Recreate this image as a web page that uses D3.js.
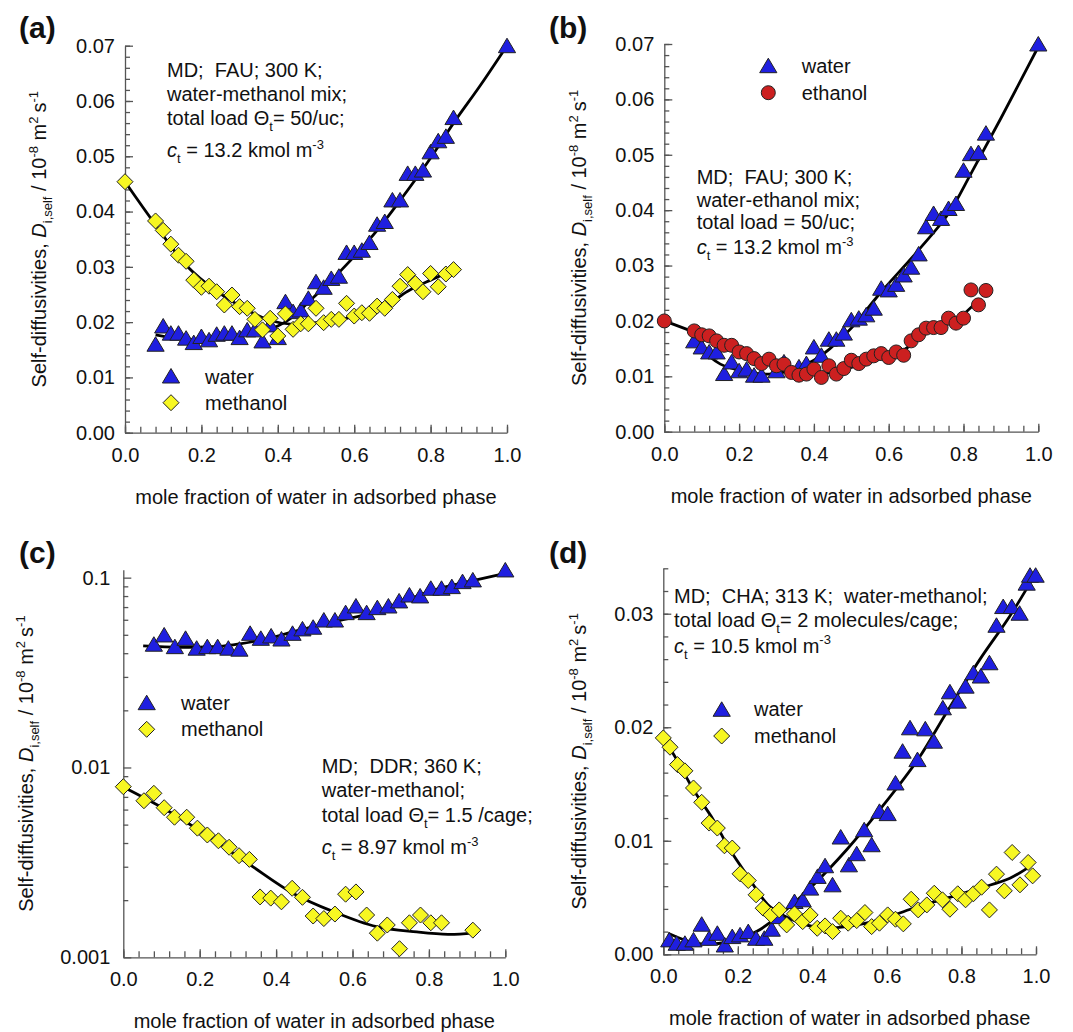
<!DOCTYPE html>
<html>
<head>
<meta charset="utf-8">
<script src="https://cdn.jsdelivr.net/npm/d3@7"></script>
<style>
  body { margin: 0; background: #fff; }
  svg text { font-family: "Liberation Sans", Arial, sans-serif; fill: #111; }
</style>
</head>
<body>
<svg id="fig" width="1073" height="1032"></svg>
<script>
// ---- values: [x, D] ----
// (a) FAU, water-methanol
var aWater = [[0.08,0.0160],[0.10,0.0193],[0.12,0.0180],[0.14,0.0180],[0.16,0.0171],[0.18,0.0163],[0.20,0.0174],[0.22,0.0168],[0.24,0.0178],[0.26,0.0180],[0.28,0.0180],[0.30,0.0172],[0.32,0.0186],[0.34,0.0186],[0.36,0.0166],[0.38,0.0195],[0.40,0.0172],[0.42,0.0237],[0.44,0.0219],[0.46,0.0222],[0.48,0.0243],[0.50,0.0273],[0.52,0.0263],[0.54,0.0279],[0.56,0.0283],[0.58,0.0326],[0.60,0.0326],[0.62,0.0330],[0.64,0.0344],[0.66,0.0377],[0.68,0.0382],[0.70,0.0421],[0.72,0.0421],[0.74,0.0469],[0.76,0.0469],[0.78,0.0475],[0.80,0.0508],[0.82,0.0528],[0.84,0.0536],[0.86,0.0570],[1.00,0.0700]];
var aMethanol = [[0,0.0454],[0.08,0.0383],[0.10,0.0366],[0.12,0.0341],[0.14,0.0321],[0.16,0.0310],[0.18,0.0276],[0.20,0.0263],[0.22,0.0265],[0.24,0.0255],[0.26,0.0231],[0.28,0.0249],[0.30,0.0228],[0.32,0.0225],[0.34,0.0205],[0.36,0.0186],[0.38,0.0207],[0.40,0.0175],[0.42,0.0215],[0.44,0.0187],[0.46,0.0197],[0.48,0.0197],[0.50,0.0225],[0.52,0.0199],[0.54,0.0205],[0.56,0.0205],[0.58,0.0234],[0.60,0.0211],[0.62,0.0217],[0.64,0.0216],[0.66,0.0229],[0.68,0.0225],[0.70,0.0241],[0.72,0.0265],[0.74,0.0286],[0.76,0.0270],[0.78,0.0255],[0.80,0.0288],[0.82,0.0264],[0.84,0.0287],[0.86,0.0295]];
var aWaterFit = [[0.08,0.0177],[0.16,0.0169],[0.24,0.0170],[0.30,0.0176],[0.36,0.0185],[0.40,0.0193],[0.44,0.0210],[0.48,0.0236],[0.52,0.0262],[0.58,0.0304],[0.66,0.0366],[0.72,0.0420],[0.80,0.0497],[0.86,0.0560],[0.93,0.0628],[1.0,0.0700]];
var aMethanolFit = [[0,0.0454],[0.08,0.0376],[0.16,0.0303],[0.24,0.0256],[0.32,0.0222],[0.38,0.0203],[0.44,0.0196],[0.50,0.0199],[0.60,0.0210],[0.68,0.0229],[0.74,0.0256],[0.80,0.0276],[0.86,0.0294]];

// (b) FAU, water-ethanol
var bWater = [[0.08,0.0164],[0.10,0.0153],[0.12,0.0144],[0.14,0.0144],[0.16,0.0105],[0.18,0.0126],[0.20,0.0110],[0.22,0.0113],[0.24,0.0102],[0.26,0.0102],[0.30,0.0110],[0.32,0.0126],[0.36,0.0117],[0.38,0.0123],[0.40,0.0153],[0.42,0.0138],[0.44,0.0167],[0.46,0.0167],[0.48,0.0178],[0.50,0.0202],[0.52,0.0205],[0.54,0.0211],[0.56,0.0223],[0.58,0.0259],[0.60,0.0256],[0.62,0.0266],[0.64,0.0283],[0.66,0.0297],[0.68,0.0321],[0.70,0.0370],[0.72,0.0394],[0.74,0.0385],[0.76,0.0403],[0.78,0.0412],[0.80,0.0472],[0.82,0.0502],[0.84,0.0504],[0.86,0.0539],[1.00,0.0700]];
var bEthanol = [[0,0.0200],[0.08,0.0182],[0.10,0.0175],[0.12,0.0173],[0.14,0.0164],[0.16,0.0156],[0.18,0.0156],[0.20,0.0144],[0.22,0.0141],[0.24,0.0132],[0.26,0.0123],[0.28,0.0131],[0.30,0.0119],[0.32,0.0122],[0.34,0.0107],[0.36,0.0102],[0.38,0.0104],[0.40,0.0113],[0.42,0.0098],[0.44,0.0119],[0.46,0.0104],[0.48,0.0114],[0.50,0.0129],[0.52,0.0123],[0.54,0.0131],[0.56,0.0137],[0.58,0.0141],[0.60,0.0134],[0.62,0.0144],[0.64,0.0138],[0.66,0.0164],[0.68,0.0175],[0.70,0.0187],[0.72,0.0188],[0.74,0.0188],[0.76,0.0205],[0.78,0.0196],[0.80,0.0205],[0.82,0.0256],[0.84,0.0229],[0.86,0.0255]];
var bWaterFit = [[0.08,0.0160],[0.15,0.0122],[0.22,0.0108],[0.28,0.0104],[0.345,0.0112],[0.40,0.0129],[0.443,0.0150],[0.50,0.0187],[0.577,0.0250],[0.68,0.0328],[0.76,0.0394],[0.82,0.0466],[0.90,0.0566],[1.0,0.0695]];
var bEthanolFit = [[0,0.0200],[0.086,0.0178],[0.176,0.0153],[0.265,0.0126],[0.354,0.0108],[0.416,0.0104],[0.488,0.0114],[0.577,0.0132],[0.639,0.0147],[0.71,0.0184],[0.78,0.0202],[0.84,0.0238]];

// (c) DDR, water-methanol (log scale)
var cWater = [[0.080,0.0446],[0.107,0.0499],[0.135,0.0433],[0.163,0.0479],[0.192,0.0425],[0.220,0.0433],[0.247,0.0433],[0.275,0.0425],[0.304,0.0420],[0.332,0.0509],[0.360,0.0479],[0.387,0.0493],[0.414,0.0475],[0.443,0.0509],[0.469,0.0537],[0.497,0.0548],[0.525,0.0598],[0.554,0.0598],[0.582,0.0654],[0.609,0.0709],[0.637,0.0654],[0.665,0.0695],[0.694,0.0709],[0.722,0.0754],[0.749,0.0810],[0.777,0.0801],[0.805,0.0879],[0.833,0.0879],[0.860,0.0897],[0.888,0.0953],[0.915,0.0973],[1.000,0.1098]];
var cMethanol = [[0.000,0.00792],[0.054,0.00668],[0.080,0.00731],[0.107,0.00614],[0.134,0.00547],[0.166,0.00547],[0.194,0.00479],[0.220,0.00441],[0.249,0.00411],[0.277,0.00380],[0.303,0.00343],[0.330,0.00328],[0.358,0.00208],[0.386,0.00205],[0.414,0.00196],[0.442,0.00231],[0.469,0.00207],[0.497,0.00165],[0.525,0.00160],[0.554,0.00169],[0.582,0.00215],[0.609,0.00221],[0.637,0.00167],[0.665,0.00134],[0.691,0.00148],[0.723,0.00111],[0.749,0.00152],[0.778,0.00167],[0.805,0.00152],[0.833,0.00152],[0.915,0.00139]];
var cWaterFit = [[0.052,0.0437],[0.15,0.0430],[0.25,0.0434],[0.305,0.0448],[0.38,0.0478],[0.445,0.0519],[0.54,0.0580],[0.637,0.0640],[0.73,0.0745],[0.812,0.0861],[0.90,0.0950],[1.0,0.1054]];
var cMethanolFit = [[0,0.0079],[0.113,0.00597],[0.218,0.0044],[0.332,0.00307],[0.445,0.00217],[0.55,0.00174],[0.663,0.00145],[0.768,0.00136],[0.85,0.00132],[0.916,0.00134]];

// (d) CHA, water-methanol
var dWater = [[0.016,0.00127],[0.036,0.00097],[0.058,0.00097],[0.081,0.00127],[0.103,0.00265],[0.123,0.00141],[0.145,0.00185],[0.165,0.00082],[0.185,0.00156],[0.206,0.00171],[0.228,0.00200],[0.249,0.00141],[0.271,0.00141],[0.291,0.00221],[0.311,0.00332],[0.352,0.00465],[0.374,0.00480],[0.394,0.00583],[0.414,0.00686],[0.434,0.00780],[0.454,0.00612],[0.476,0.01033],[0.498,0.00788],[0.519,0.00886],[0.539,0.01097],[0.559,0.00965],[0.580,0.01259],[0.602,0.01239],[0.623,0.01509],[0.642,0.01789],[0.662,0.01995],[0.682,0.01715],[0.703,0.01986],[0.726,0.01877],[0.750,0.02171],[0.769,0.02312],[0.790,0.02230],[0.811,0.02362],[0.832,0.02480],[0.852,0.02451],[0.875,0.02568],[0.894,0.02898],[0.912,0.03063],[0.935,0.03063],[0.956,0.03004],[0.975,0.03269],[0.984,0.03339],[0.999,0.03339]];
var dMethanol = [[0.000,0.01906],[0.018,0.01824],[0.038,0.01671],[0.058,0.01616],[0.081,0.01465],[0.103,0.01339],[0.123,0.01156],[0.145,0.01112],[0.164,0.00956],[0.185,0.00936],[0.206,0.00709],[0.228,0.00650],[0.249,0.00524],[0.268,0.00406],[0.289,0.00347],[0.311,0.00391],[0.331,0.00259],[0.352,0.00356],[0.374,0.00288],[0.394,0.00347],[0.413,0.00229],[0.434,0.00250],[0.454,0.00200],[0.476,0.00318],[0.496,0.00274],[0.519,0.00297],[0.541,0.00368],[0.559,0.00244],[0.580,0.00274],[0.602,0.00347],[0.623,0.00309],[0.644,0.00268],[0.665,0.00485],[0.684,0.00391],[0.707,0.00435],[0.727,0.00538],[0.749,0.00480],[0.769,0.00397],[0.790,0.00533],[0.811,0.00480],[0.832,0.00533],[0.854,0.00591],[0.875,0.00391],[0.894,0.00706],[0.915,0.00559],[0.936,0.00897],[0.957,0.00612],[0.979,0.00809],[0.991,0.00691]];
var dWaterFit = [[0.013,0.00185],[0.089,0.00097],[0.179,0.00112],[0.25,0.0020],[0.313,0.00347],[0.394,0.00583],[0.492,0.00921],[0.581,0.01274],[0.684,0.0172],[0.76,0.0213],[0.85,0.0260],[0.93,0.0298],[1.0,0.0336]];
var dMethanolFit = [[0,0.0191],[0.036,0.01715],[0.081,0.0145],[0.134,0.01186],[0.179,0.0092],[0.224,0.0070],[0.286,0.0042],[0.358,0.00288],[0.429,0.0023],[0.492,0.00244],[0.581,0.00303],[0.67,0.00406],[0.76,0.00494],[0.85,0.00583],[0.93,0.0067],[0.984,0.00774]];

// ---- ticks ----
var xTicks = [0, 0.2, 0.4, 0.6, 0.8, 1.0];
var linTicks07 = [0, 0.01, 0.02, 0.03, 0.04, 0.05, 0.06, 0.07];
var linTicks03 = [0, 0.01, 0.02, 0.03];
var logTicks = [0.001, 0.01, 0.1];
var logTickLabels = ["0.001", "0.01", "0.1"];

var BLUE = "#1f1fe0", YELLOW = "#f7f722", RED = "#cc2020";

var svg = d3.select("#fig");

// text with italic / sub / sup parts
function rich(sel, parts, fs) {
  var shift = 0;
  parts.forEach(function (p) {
    var kind = p[1] || "";
    var target = kind === "sub" ? fs * 0.3 : (kind === "sup" ? -fs * 0.42 : 0);
    var t = sel.append("tspan").text(p[0]).attr("dy", target - shift);
    shift = target;
    if (kind === "sub" || kind === "sup") t.attr("font-size", Math.round(fs * 0.65));
    if (kind === "i") t.attr("font-style", "italic");
  });
  return sel;
}

var triangle = { draw: function (ctx) { ctx.moveTo(0, -7.5); ctx.lineTo(8.6, 7); ctx.lineTo(-8.6, 7); ctx.closePath(); } };
var diamond = { draw: function (ctx) { ctx.moveTo(0, -8); ctx.lineTo(8, 0); ctx.lineTo(0, 8); ctx.lineTo(-8, 0); ctx.closePath(); } };
var shapes = {
  tri: d3.symbol().type(triangle)(),
  dia: d3.symbol().type(diamond)(),
  cir: d3.symbol().type(d3.symbolCircle).size(Math.PI * 7 * 7)()
};
var fills = { tri: BLUE, dia: YELLOW, cir: RED };

var yTitle = [["Self-diffusivities, "], ["D", "i"], ["i,self", "sub"], [" / 10"], ["-8", "sup"], [" m"], ["2", "sup"], ["\u2009s"], ["-1", "sup"]];

function panel(p) {
  var g = svg.append("g");
  var x = d3.scaleLinear().domain([0, 1]).range([p.x0, p.x1]);
  var y = (p.log ? d3.scaleLog() : d3.scaleLinear()).domain(p.yDomain).range([p.yb, p.yt]);

  // axes
  var xMinor = d3.range(0, 1.0001, 0.04);
  g.append("g").attr("transform", "translate(0," + p.yb + ")")
    .call(d3.axisBottom(x).tickValues(xMinor).tickSize(-6).tickSizeOuter(0).tickFormat(""))
    .call(function (a) { a.select(".domain").remove(); });
  g.append("g").attr("class", "ax").attr("transform", "translate(0," + p.yb + ")")
    .call(d3.axisBottom(x).tickValues(xTicks).tickSize(-8).tickSizeOuter(0).tickPadding(15).tickFormat(d3.format(".1f")));

  var yMinor, yAxis;
  if (p.log) {
    yMinor = [];
    [0.001, 0.01].forEach(function (dec) { for (var k = 2; k <= 9; k++) yMinor.push(dec * k); });
    yAxis = d3.axisLeft(y).tickValues(logTicks).tickFormat(function (d, i) { return logTickLabels[i]; });
  } else {
    yMinor = d3.range(0, p.yDomain[1] + 1e-9, 0.002);
    yAxis = d3.axisLeft(y).tickValues(p.yTicks).tickFormat(d3.format(".2f"));
  }
  g.append("g").attr("transform", "translate(" + p.x0 + ",0)")
    .call(d3.axisLeft(y).tickValues(yMinor).tickSize(-5).tickFormat(""))
    .call(function (a) { a.select(".domain").remove(); });
  g.append("g").attr("class", "ax").attr("transform", "translate(" + p.x0 + ",0)")
    .call(yAxis.tickSize(-8).tickSizeOuter(0).tickPadding(p.pad));

  g.selectAll("path.domain, .tick line").attr("stroke", "#555").attr("stroke-width", 1.3);
  g.selectAll(".ax text").attr("font-size", 20).attr("font-family", "Liberation Sans, Arial, sans-serif").attr("fill", "#111");

  // fitted curves
  var line = d3.line().x(function (d) { return x(d[0]); }).y(function (d) { return y(d[1]); })
    .curve(d3.curveCatmullRom.alpha(0.5));
  p.fits.forEach(function (f) {
    g.append("path").datum(f).attr("d", line).attr("fill", "none")
      .attr("stroke", "#000").attr("stroke-width", 2.8);
  });

  // markers
  p.series.forEach(function (s) {
    g.append("g").selectAll("path").data(s.data).join("path")
      .attr("d", shapes[s.shape])
      .attr("transform", function (d) { return "translate(" + x(d[0]) + "," + y(d[1]) + ")"; })
      .attr("fill", fills[s.shape]).attr("stroke", "#222").attr("stroke-width", 1);
  });

  // legend
  p.legend.forEach(function (l) {
    g.append("path").attr("d", shapes[l.shape]).attr("transform", "translate(" + l.mx + "," + l.my + ")")
      .attr("fill", fills[l.shape]).attr("stroke", "#222").attr("stroke-width", 1);
    g.append("text").attr("x", l.tx).attr("y", l.ty).attr("font-size", 20).text(l.label);
  });

  // annotation
  p.note.forEach(function (n) {
    rich(g.append("text").attr("x", p.noteX).attr("y", n.y).attr("font-size", 20).style("white-space", "pre"), n.parts, 20);
  });

  // panel letter
  g.append("text").attr("x", p.lx).attr("y", p.ly).attr("font-size", 30).attr("font-weight", "bold").text(p.letter);

  // axis titles
  g.append("text").attr("x", (p.x0 + p.x1) / 2).attr("y", p.yb + 71).attr("text-anchor", "middle")
    .attr("font-size", 20).text("mole fraction of water in adsorbed phase");
  rich(g.append("text").attr("text-anchor", "middle").attr("font-size", 20)
    .attr("transform", "translate(" + p.tx + "," + ((p.yb + p.yt) / 2) + ") rotate(-90)"), yTitle, 20);
}

panel({
  letter: "(a)", lx: 19, ly: 38, x0: 125, x1: 507, yt: 45.7, yb: 432.7, yDomain: [0, 0.07], yTicks: linTicks07, pad: 10, tx: 46,
  fits: [aWaterFit, aMethanolFit],
  series: [{ data: aWater, shape: "tri" }, { data: aMethanol, shape: "dia" }],
  legend: [{ shape: "tri", mx: 171, my: 376, tx: 205, ty: 383.5, label: "water" },
           { shape: "dia", mx: 171, my: 402.7, tx: 205, ty: 409.5, label: "methanol" }],
  noteX: 167,
  note: [{ y: 77, parts: [["MD;  FAU; 300 K;"]] },
         { y: 101, parts: [["water-methanol mix;"]] },
         { y: 125, parts: [["total load \u0398"], ["t", "sub"], ["= 50/uc;"]] },
         { y: 157, parts: [["c", "i"], ["t", "sub"], [" = 13.2 kmol m"], ["-3", "sup"]] }]
});

panel({
  letter: "(b)", lx: 549, ly: 38, x0: 664.3, x1: 1038.3, yt: 44, yb: 431.7, yDomain: [0, 0.07], yTicks: linTicks07, pad: 10, tx: 586,
  fits: [bWaterFit, bEthanolFit],
  series: [{ data: bWater, shape: "tri" }, { data: bEthanol, shape: "cir" }],
  legend: [{ shape: "tri", mx: 768.3, my: 65.7, tx: 801.7, ty: 73.3, label: "water" },
           { shape: "cir", mx: 768.3, my: 92.7, tx: 801.7, ty: 100, label: "ethanol" }],
  noteX: 696.7,
  note: [{ y: 184, parts: [["MD;  FAU; 300 K;"]] },
         { y: 206.7, parts: [["water-ethanol mix;"]] },
         { y: 229.3, parts: [["total load = 50/uc;"]] },
         { y: 254, parts: [["c", "i"], ["t", "sub"], [" = 13.2 kmol m"], ["-3", "sup"]] }]
});

panel({
  letter: "(c)", lx: 19, ly: 563, x0: 123.3, x1: 505.3, yt: 569.8, yb: 957.3, yDomain: [0.001, 0.11], log: true, pad: 13, tx: 33,
  fits: [cWaterFit, cMethanolFit],
  series: [{ data: cWater, shape: "tri" }, { data: cMethanol, shape: "dia" }],
  legend: [{ shape: "tri", mx: 146.7, my: 702.7, tx: 181, ty: 710, label: "water" },
           { shape: "dia", mx: 146.7, my: 729.3, tx: 181, ty: 736, label: "methanol" }],
  noteX: 321.7,
  note: [{ y: 773.3, parts: [["MD;  DDR; 360 K;"]] },
         { y: 796.5, parts: [["water-methanol;"]] },
         { y: 821.7, parts: [["total load \u0398"], ["t", "sub"], ["= 1.5 /cage;"]] },
         { y: 854, parts: [["c", "i"], ["t", "sub"], [" = 8.97 kmol m"], ["-3", "sup"]] }]
});

panel({
  letter: "(d)", lx: 549, ly: 563, x0: 663.3, x1: 1036, yt: 568.3, yb: 954.3, yDomain: [0, 0.034], yTicks: linTicks03, pad: 10, tx: 586,
  fits: [dWaterFit, dMethanolFit],
  series: [{ data: dWater, shape: "tri" }, { data: dMethanol, shape: "dia" }],
  legend: [{ shape: "tri", mx: 721.7, my: 709.3, tx: 754, ty: 716, label: "water" },
           { shape: "dia", mx: 721.7, my: 736, tx: 754, ty: 742.5, label: "methanol" }],
  noteX: 674,
  note: [{ y: 603.3, parts: [["MD;  CHA; 313 K;  water-methanol;"]] },
         { y: 626.5, parts: [["total load \u0398"], ["t", "sub"], ["= 2 molecules/cage;"]] },
         { y: 652.7, parts: [["c", "i"], ["t", "sub"], [" = 10.5 kmol m"], ["-3", "sup"]] }]
});
</script>
</body>
</html>
